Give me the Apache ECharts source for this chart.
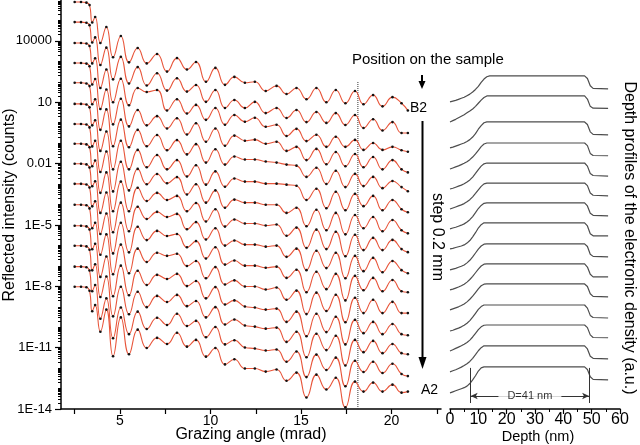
<!DOCTYPE html>
<html><head><meta charset="utf-8">
<script src="https://cdn.jsdelivr.net/npm/echarts@6/dist/echarts.min.js"></script>
<style>html,body{margin:0;padding:0;background:#fff}#c{width:640px;height:445px}</style>
</head><body><div id="c"></div>
<script>
// ---- Reflectivity curves (left panel) ----
// grazing angles (mrad) shared by all curves
const angles = [2.5, 2.85, 3.15, 3.32, 3.47, 3.63, 3.92, 4.25, 4.62, 5.05, 5.5, 5.98, 6.48, 7.05, 7.6, 8.15, 8.7, 9.2, 9.75, 10.27, 10.8, 11.32, 11.9, 12.45, 13.05, 13.65, 14.2, 14.75, 15.3, 15.85, 16.4, 16.92, 17.45, 17.98, 18.45, 18.98, 19.5, 20.05, 20.55, 20.9];
// log10 of the total-reflection plateau of each (shifted) curve, B2 (top) to A2 (bottom)
const plateauLog = [5.9, 4.92, 3.9, 2.92, 1.95, 0.92, -0.06, -1.03, -2.01, -2.99, -4.01, -5.04, -6.02, -7.04, -8.02];
// log10 intensity relative to the plateau (decades)
const curve0 = [0,0,-0.03,-0.15,-1.0,-0.73,-2.0,-1.22,-2.7,-1.66,-2.95,-2.25,-3.0,-2.54,-3.4,-2.74,-3.3,-2.93,-3.9,-3.22,-4.05,-3.66,-3.95,-3.9,-4.35,-4.1,-4.5,-4.2,-4.75,-4.2,-4.9,-4.3,-4.95,-4.35,-5.0,-4.55,-5.1,-4.65,-4.95,-5.3];
const curve1 = [0,0,-0.03,-0.15,-1.0,-0.75,-2.1,-1.25,-2.8,-1.7,-3.0,-2.2,-3.1,-2.5,-3.35,-2.75,-3.4,-3.08,-3.9,-3.32,-4.2,-3.81,-4.2,-3.9,-4.45,-4.2,-4.69,-4.3,-4.89,-4.4,-4.93,-4.45,-5.03,-4.54,-5.18,-4.75,-5.3,-4.89,-5.42,-5.42];
const curve2 = [0,0,-0.03,-0.15,-1.0,-0.75,-2.2,-1.3,-2.9,-1.75,-3.05,-2.2,-2.4,-2.3,-3.3,-2.75,-3.45,-3.03,-3.76,-3.18,-4.0,-3.52,-3.85,-3.66,-4.1,-4.0,-4.55,-4.2,-4.8,-4.49,-5.08,-4.59,-5.08,-4.74,-5.23,-4.89,-5.23,-5.08,-5.25,-5.32];
const curve3 = [0,0,-0.03,-0.16,-1.05,-0.78,-2.25,-1.3,-3.0,-1.75,-3.1,-2.3,-3.05,-2.6,-3.2,-2.7,-3.5,-2.95,-3.85,-3.2,-4.05,-3.55,-3.8,-3.75,-3.95,-3.85,-4.3,-4.1,-4.75,-4.2,-4.95,-4.35,-5.05,-4.45,-5.1,-4.6,-5.2,-4.75,-5.2,-5.35];
const curve4 = [0,0,-0.03,-0.16,-1.05,-0.8,-2.3,-1.3,-3.1,-1.8,-3.15,-2.3,-3.1,-2.55,-3.3,-2.8,-3.5,-3.0,-3.9,-3.25,-4.0,-3.6,-3.75,-3.75,-3.85,-3.9,-4.0,-4.05,-4.6,-4.15,-4.95,-4.3,-5.1,-4.45,-5.05,-4.6,-5.15,-4.8,-5.1,-5.3];
const curve5 = [0,0,-0.03,-0.17,-1.05,-0.8,-2.3,-1.35,-3.2,-1.8,-3.2,-2.25,-3.1,-2.5,-3.2,-2.75,-3.55,-3.0,-3.95,-3.3,-4.05,-3.65,-3.8,-3.8,-3.9,-3.9,-3.95,-4.0,-4.7,-4.15,-5.1,-4.3,-5.2,-4.4,-5.0,-4.5,-5.2,-4.7,-5.15,-5.3];
const curve6 = [0,0,-0.03,-0.17,-1.1,-0.82,-2.35,-1.35,-3.3,-1.85,-3.25,-2.2,-2.95,-2.45,-2.9,-2.6,-3.45,-2.95,-3.85,-3.25,-4.1,-3.7,-3.85,-3.85,-3.95,-3.95,-4.35,-4.1,-5.0,-4.2,-5.2,-4.35,-5.4,-4.45,-5.1,-4.55,-5.25,-4.7,-5.2,-5.35];
const curve7 = [0,0,-0.03,-0.17,-1.1,-0.82,-2.4,-1.4,-3.3,-1.85,-3.3,-2.15,-2.8,-2.4,-2.75,-2.55,-3.3,-2.9,-3.8,-3.2,-4.05,-3.7,-3.9,-3.9,-4.0,-3.95,-4.5,-4.1,-5.1,-4.2,-5.15,-4.3,-5.5,-4.45,-5.2,-4.6,-5.2,-4.7,-5.15,-5.3];
const curve8 = [0,0,-0.03,-0.18,-1.1,-0.85,-2.4,-1.4,-3.35,-1.9,-3.3,-2.1,-2.7,-2.35,-2.6,-2.45,-3.2,-2.85,-3.7,-3.15,-4.0,-3.75,-3.95,-3.95,-4.05,-4.0,-4.55,-4.15,-5.2,-4.25,-5.1,-4.35,-5.6,-4.5,-5.25,-4.6,-5.3,-4.75,-5.2,-5.35];
const curve9 = [0,0,-0.03,-0.18,-1.1,-0.85,-2.45,-1.45,-3.4,-1.9,-3.35,-2.1,-2.75,-2.3,-2.55,-2.45,-3.1,-2.8,-3.65,-3.1,-3.95,-3.75,-4.0,-4.0,-4.1,-4.05,-4.6,-4.2,-5.3,-4.3,-5.15,-4.4,-5.7,-4.5,-5.2,-4.6,-5.25,-4.7,-5.25,-5.3];
const curve10 = [0,0,-0.03,-0.18,-1.15,-0.88,-2.45,-1.45,-3.4,-1.95,-3.35,-2.15,-2.8,-2.35,-2.5,-2.4,-3.0,-2.75,-3.6,-3.05,-3.9,-3.7,-4.0,-4.0,-4.15,-4.05,-4.65,-4.2,-5.35,-4.3,-5.2,-4.4,-5.75,-4.55,-5.3,-4.65,-5.3,-4.75,-5.3,-5.3];
const curve11 = [0,0,-0.03,-0.18,-1.15,-0.88,-2.5,-1.5,-3.45,-1.95,-3.4,-2.2,-2.9,-2.4,-2.6,-2.35,-2.95,-2.7,-3.55,-3.0,-3.85,-3.65,-3.95,-4.0,-4.1,-4.05,-4.7,-4.2,-5.4,-4.3,-5.2,-4.45,-5.8,-4.6,-5.25,-4.7,-5.3,-4.8,-5.3,-5.35];
const curve12 = [0,0,-0.03,-0.19,-1.2,-0.9,-2.5,-1.5,-3.45,-2.0,-3.35,-2.25,-3.0,-2.45,-2.75,-2.4,-2.95,-2.7,-3.5,-3.0,-3.85,-3.6,-3.9,-3.95,-4.05,-4.0,-4.7,-4.2,-5.45,-4.3,-5.1,-4.4,-5.85,-4.6,-5.2,-4.65,-5.25,-4.8,-5.25,-5.3];
const curve13 = [0,0,-0.03,-0.19,-1.2,-0.9,-2.55,-1.55,-3.5,-2.0,-3.3,-2.2,-3.05,-2.5,-2.85,-2.3,-2.9,-2.65,-3.45,-2.95,-3.8,-3.6,-3.95,-4.0,-4.1,-4.05,-4.65,-4.15,-5.4,-4.3,-5.05,-4.45,-5.85,-4.6,-5.15,-4.65,-5.2,-4.75,-5.25,-5.35];
const curve14 = [0,0,-0.03,-0.2,-1.2,-0.9,-2.2,-1.12,-3.4,-1.5,-3.3,-2.1,-3.0,-2.5,-2.8,-2.25,-2.93,-2.6,-3.42,-3.0,-3.8,-3.55,-4.0,-4.0,-4.15,-4.05,-4.6,-4.2,-5.42,-4.3,-5.03,-4.45,-5.9,-4.64,-5.13,-4.69,-5.13,-4.79,-5.18,-5.13];
const curves = [curve0,curve1,curve2,curve3,curve4,curve5,curve6,curve7,curve8,curve9,curve10,curve11,curve12,curve13,curve14];

// axis ticks / labels
const xTickValues = [2.5,5,7.5,10,12.5,15,17.5,20,22.5];
const xLabelValues = [5,10,15,20];
const yLabelValues = [-14,-11,-8,-5,-2,1,4];
const yLabelTexts = ['1E-14','1E-11','1E-8','1E-5','0.01','10','10000'];
const markerAngle = 18.14;      // dotted vertical line (mrad)
const markerTopLog = 2.0;

// ---- Depth profiles (right panel) ----
const depth = [0,1,2,3,4,5,6,7,8,9,10,11,12,13,14,47.5,48.5,49.5,50.5,55.8];
const profileOffsets = [0,-0.77,-1.77,-2.58,-3.35,-4.12,-4.88,-5.65,-6.46,-7.23,-8.0,-8.81,-9.58,-10.38,-11.19];
const profile0 = [0,0.03,0.06,0.1,0.14,0.18,0.24,0.3,0.38,0.48,0.6,0.75,0.88,0.97,1,1,0.9,0.62,0.52,0.5];
const profile1 = [0,0.05,0.1,0.16,0.22,0.28,0.35,0.42,0.5,0.6,0.72,0.84,0.94,1,1,1,0.88,0.6,0.53,0.52];
const profile2 = [0,0.03,0.07,0.11,0.15,0.19,0.25,0.32,0.42,0.55,0.72,0.86,0.97,1,1,1,0.9,0.62,0.52,0.5];
const profile3 = [0,0.04,0.08,0.12,0.17,0.22,0.28,0.36,0.46,0.58,0.72,0.86,0.96,1,1,1,0.9,0.6,0.52,0.51];
const profile4 = [0,0.03,0.07,0.11,0.15,0.2,0.27,0.35,0.46,0.6,0.75,0.88,0.97,1,1,1,0.88,0.6,0.52,0.5];
const profile5 = [0,0.04,0.08,0.12,0.16,0.21,0.28,0.36,0.47,0.6,0.74,0.87,0.97,1,1,1,0.9,0.62,0.53,0.51];
const profile6 = [0,0.03,0.06,0.1,0.14,0.19,0.26,0.35,0.47,0.62,0.78,0.9,0.98,1,1,1,0.88,0.6,0.52,0.5];
const profile7 = [0,0.02,0.05,0.08,0.11,0.15,0.22,0.32,0.46,0.62,0.8,0.93,1,1,1,1,0.88,0.58,0.5,0.5];
const profile8 = [0,0.03,0.06,0.1,0.14,0.19,0.27,0.37,0.5,0.65,0.8,0.92,0.99,1,1,1,0.9,0.6,0.52,0.5];
const profile9 = [0,0.03,0.07,0.11,0.16,0.22,0.3,0.4,0.52,0.66,0.8,0.92,0.99,1,1,1,0.88,0.6,0.5,0.5];
const profile10 = [0,0.04,0.08,0.12,0.17,0.23,0.31,0.41,0.53,0.67,0.81,0.93,0.99,1,1,1,0.9,0.62,0.52,0.5];
const profile11 = [0,0.03,0.07,0.11,0.16,0.22,0.3,0.4,0.53,0.68,0.83,0.94,1,1,1,1,0.88,0.6,0.52,0.5];
const profile12 = [0,0.05,0.1,0.15,0.2,0.26,0.33,0.42,0.54,0.68,0.82,0.93,0.99,1,1,1,0.9,0.62,0.52,0.51];
const profile13 = [0,0.04,0.08,0.13,0.18,0.24,0.31,0.4,0.52,0.66,0.81,0.93,1,1,1,1,0.88,0.6,0.52,0.5];
const profile14 = [0,0.04,0.08,0.12,0.16,0.2,0.26,0.36,0.5,0.66,0.84,0.96,1,1,1,1,0.9,0.62,0.52,0.5];
const profiles = [profile0,profile1,profile2,profile3,profile4,profile5,profile6,profile7,profile8,profile9,profile10,profile11,profile12,profile13,profile14];
const thicknessFrom = 7.3, thicknessTo = 49.1;   // nm, D = 41 nm
const dimTop = -10.23, dimBottom = -11.58, dimArrow = -11.31;

// ---------------------------------------------------
const FONT = '"Liberation Sans", Arial, Helvetica, sans-serif';
const RED = '#e8553a';
const minorTicks = [];
for (let d = -14; d < 6; d++) for (let m = 1; m <= 9; m++) { const v = d + Math.log10(m); if (v <= 6) minorTicks.push(+v.toFixed(4)); }

const series = [];
curves.forEach((c, k) => {
  series.push({
    type: 'line', xAxisIndex: 0, yAxisIndex: 0, smooth: 0.5,
    data: angles.map((a, i) => [a, plateauLog[k] + c[i]]),
    symbol: 'circle', symbolSize: 2.6, itemStyle: { color: '#111' },
    lineStyle: { color: RED, width: 1.1 }, z: 3
  });
});
series.push({
  type: 'line', xAxisIndex: 0, yAxisIndex: 0, symbol: 'none',
  data: [[markerAngle, -14], [markerAngle, markerTopLog]],
  lineStyle: { color: '#333', width: 1, type: 'dotted' }, z: 2
});
profiles.forEach((p, k) => {
  series.push({
    type: 'line', xAxisIndex: 1, yAxisIndex: 2, symbol: 'none',
    data: depth.map((d, i) => [d, profileOffsets[k] + p[i]]),
    lineStyle: { color: '#4d4d4d', width: 1.2 }
  });
});
series.push({
  type: 'scatter', xAxisIndex: 1, yAxisIndex: 2, symbolSize: 0,
  data: [[(thicknessFrom + thicknessTo) / 2, dimArrow]],
  label: { show: true, position: 'inside', formatter: 'D=41 nm', fontFamily: FONT, fontSize: 11, color: '#000', backgroundColor: '#fff', padding: [1, 9] },
  z: 5,
  markLine: {
    silent: true, symbol: ['none', 'none'], label: { show: false },
    lineStyle: { color: '#333', width: 1, type: 'solid' },
    data: [
      [{ coord: [thicknessFrom, dimTop] }, { coord: [thicknessFrom, dimBottom] }],
      [{ coord: [thicknessTo, dimTop] }, { coord: [thicknessTo, dimBottom] }],
      [{ coord: [thicknessFrom, dimArrow], symbol: 'arrow', symbolSize: [5, 7] }, { coord: [thicknessTo, dimArrow], symbol: 'arrow', symbolSize: [5, 7] }]
    ]
  }
});

const txt = (text, x, y, size, opts = {}) => Object.assign({
  type: 'text', x, y, z: 10,
  style: { text, font: size + 'px ' + FONT, fill: '#000', align: opts.align || 'center', verticalAlign: 'middle' }
}, opts.rotation !== undefined ? { rotation: opts.rotation } : {});

const option = {
  animation: false,
  grid: [
    { left: 61, top: 0, width: 380, height: 409 },
    { left: 450, top: 0, width: 170, height: 409 }
  ],
  xAxis: [
    { type: 'value', gridIndex: 0, min: 1.745, max: 22.73,
      axisLine: { show: true, onZero: false, lineStyle: { color: '#000', width: 1.5 } },
      axisTick: { show: true, customValues: xTickValues, length: 5, lineStyle: { color: '#000', width: 1.2 } },
      axisLabel: { customValues: xLabelValues, fontFamily: FONT, fontSize: 14, color: '#000', margin: 5 },
      splitLine: { show: false } },
    { type: 'value', gridIndex: 1, min: 0, max: 60, interval: 10,
      axisLine: { show: true, onZero: false, lineStyle: { color: '#000', width: 1.5 } },
      axisTick: { show: true, length: 5, lineStyle: { color: '#000', width: 1.2 } },
      minorTick: { show: true, splitNumber: 2, length: 3, lineStyle: { color: '#000', width: 1 } },
      axisLabel: { fontFamily: FONT, fontSize: 16, color: '#000', margin: 3 },
      splitLine: { show: false }, minorSplitLine: { show: false } }
  ],
  yAxis: [
    { type: 'value', gridIndex: 0, min: -14, max: 6,
      axisLine: { show: true, onZero: false, lineStyle: { color: '#000', width: 1.5 } },
      axisTick: { show: true, customValues: yLabelValues, length: 6, lineStyle: { color: '#000', width: 1.2 } },
      axisLabel: { customValues: yLabelValues, fontFamily: FONT, fontSize: 13, color: '#000', margin: 9,
        formatter: v => { const i = yLabelValues.indexOf(Math.round(v)); return i >= 0 ? yLabelTexts[i] : ''; } },
      splitLine: { show: false } },
    { type: 'value', gridIndex: 0, min: -14, max: 6, position: 'left',
      axisLine: { show: false },
      axisTick: { show: true, customValues: minorTicks, length: 3, lineStyle: { color: '#000', width: 1 } },
      axisLabel: { show: false }, splitLine: { show: false } },
    { type: 'value', gridIndex: 1, min: -11.81, max: 3.92, show: false, splitLine: { show: false } }
  ],
  series,
  graphic: [
    txt('Reflected intensity (counts)', 10, 205, 16, { rotation: Math.PI / 2 }),
    txt('Grazing angle (mrad)', 251, 435, 16),
    txt('Depth (nm)', 538, 437, 14.5),
    txt('Depth profiles of the electronic density (a.u.)', 629, 238, 16, { rotation: -Math.PI / 2 }),
    txt('Position on the sample', 352, 60, 15, { align: 'left' }),
    txt('B2', 410, 108, 14, { align: 'left' }),
    txt('A2', 421, 390, 14, { align: 'left' }),
    txt('step 0.2 mm', 437, 237, 16, { rotation: -Math.PI / 2 }),
    { type: 'line', shape: { x1: 422, y1: 75, x2: 422, y2: 83 }, style: { stroke: '#000', lineWidth: 2 } },
    { type: 'polygon', shape: { points: [[418.5, 81], [425.5, 81], [422, 89]] }, style: { fill: '#000' } },
    { type: 'line', shape: { x1: 422.5, y1: 121, x2: 422.5, y2: 360 }, style: { stroke: '#000', lineWidth: 2 } },
    { type: 'polygon', shape: { points: [[418.5, 357], [426.5, 357], [422.5, 369]] }, style: { fill: '#000' } }
  ]
};
const chart = echarts.init(document.getElementById('c'), null, { renderer: 'canvas' });
chart.setOption(option);
</script>
</body></html>
